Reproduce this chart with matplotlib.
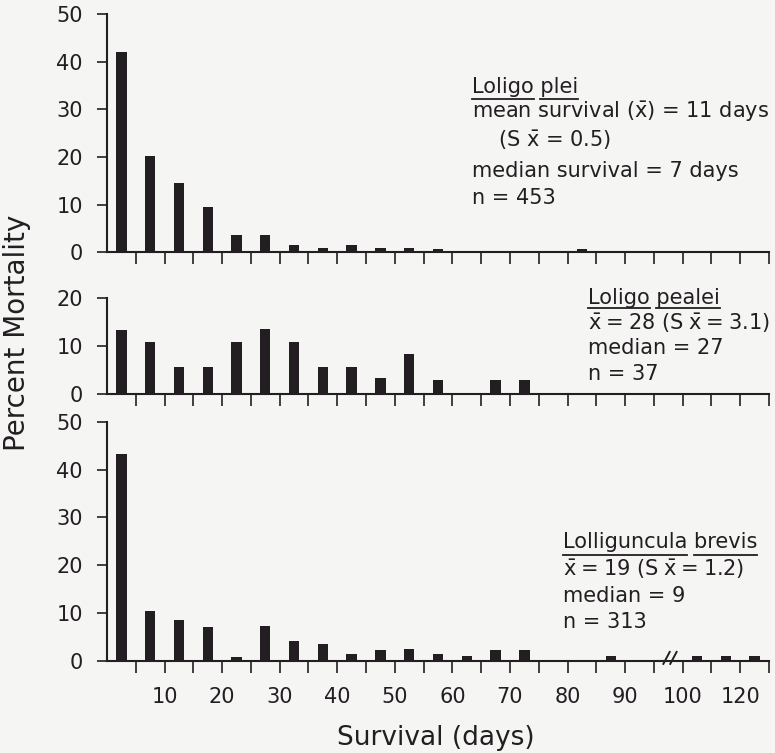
import matplotlib
matplotlib.use('Agg')
import matplotlib.pyplot as plt
from matplotlib.lines import Line2D

# ---------------- data ----------------
plei_days = [2.5, 7.5, 12.5, 17.5, 22.5, 27.5, 32.5, 37.5, 42.5, 47.5, 52.5, 57.5, 82.5, 97.5]
plei_pct = [42.0, 20.2, 14.5, 9.4, 3.7, 3.7, 1.6, 1.0, 1.5, 1.0, 1.0, 0.6, 0.7, 0.3]

pealei_days = [2.5, 7.5, 12.5, 17.5, 22.5, 27.5, 32.5, 37.5, 42.5, 47.5, 52.5, 57.5, 67.5, 72.5]
pealei_pct = [13.5, 11.0, 5.7, 5.7, 11.0, 13.7, 11.0, 5.6, 5.6, 3.3, 8.5, 3.0, 3.0, 3.0]

brevis_days = [2.5, 7.5, 12.5, 17.5, 22.5, 27.5, 32.5, 37.5, 42.5, 47.5, 52.5, 57.5, 62.5,
               67.5, 72.5, 87.5, 105, 115, 125]
brevis_pct = [43.2, 10.5, 8.5, 7.0, 0.9, 7.4, 4.2, 3.5, 1.4, 2.4, 2.6, 1.5, 1.0,
              2.3, 2.4, 1.0, 1.0, 1.0, 1.0]

tick_days = [5, 10, 15, 20, 25, 30, 35, 40, 45, 50, 55, 60, 65, 70, 75, 80, 85, 90, 95,
             100, 110, 120, 130]
label_days = [10, 20, 30, 40, 50, 60, 70, 80, 90, 100, 120]
label_text = ['10', '20', '30', '40', '50', '60', '70', '80', '90', '100', '120']

panel_ymax = [50, 20, 50]
panel_yticks = [[0, 10, 20, 30, 40, 50], [0, 10, 20], [0, 10, 20, 30, 40, 50]]


def axis_pos(d):
    """broken axis: beyond 100 days the scale is compressed 2x"""
    return d if d <= 100 else 100 + (d - 100) / 2.0


W, H = 775, 753
INK = '#231e21'
BG = '#f5f5f4'
FS = 15

fig = plt.figure(figsize=(W / 100, H / 100), dpi=100, facecolor=BG)


def fx(px):
    return px / W


def fy(py):
    return 1 - py / H


left, right = 107, 769
boxes = [(14, 252.3), (298.3, 394.3), (421.7, 661)]
series = [(plei_days, plei_pct), (pealei_days, pealei_pct), (brevis_days, brevis_pct)]
axes = []
for i, ((top, bot), (dd, vv)) in enumerate(zip(boxes, series)):
    ax = fig.add_axes([fx(left), fy(bot), fx(right) - fx(left), (bot - top) / H])
    ax.set_facecolor('none')
    ax.bar([axis_pos(d) for d in dd], vv, width=1.8, color=INK, edgecolor='none', zorder=3)
    ax.set_xlim(0, axis_pos(130))
    ax.set_ylim(0, panel_ymax[i])
    ax.set_yticks(panel_yticks[i])
    ax.set_yticklabels([str(t) for t in panel_yticks[i]], fontsize=FS, color=INK)
    if i == 2:
        ax.set_xticks([axis_pos(d) for d in label_days], labels=label_text)
        ax.set_xticks([axis_pos(d) for d in tick_days if d not in label_days], minor=True)
        ax.tick_params(axis='x', which='major', labelsize=FS, labelcolor=INK, pad=10)
    else:
        ax.set_xticks([axis_pos(d) for d in tick_days])
        ax.set_xticklabels([])
    for sp in ['top', 'right']:
        ax.spines[sp].set_visible(False)
    for sp in ['left', 'bottom']:
        ax.spines[sp].set_linewidth(1.5)
        ax.spines[sp].set_color(INK)
    ax.tick_params(axis='x', which='both', direction='out', length=8.5, width=1.2, color=INK)
    ax.tick_params(axis='y', direction='out', length=7.5, width=1.2, color=INK, pad=10)
    ax.spines['left'].set_bounds(0, panel_ymax[i])
    axes.append(ax)

# axis break marks on the bottom panel
axb = axes[2]
for xb in (97.2, 98.4):
    axb.plot([xb - 0.55, xb + 0.55], [-0.6, 1.9], color=INK, lw=1.4, clip_on=False, zorder=4)

# labels
fig.text(fx(436), fy(738), 'Survival (days)', fontsize=19, color=INK, ha='center', va='center')
fig.text(fx(17), fy(333), 'Percent Mortality', fontsize=20, color=INK, ha='center', va='center',
         rotation=90)

XB = r'$\bar{\mathrm{x}}$'
SP = '\u2005'  # four-per-em space

fig.canvas.draw()
renderer = fig.canvas.get_renderer()


def title_with_underline(x, y, words, uy):
    full = ' '.join(words)
    t = fig.text(fx(x), fy(y), full, fontsize=FS, color=INK, va='baseline', ha='left')
    bbf = t.get_window_extent(renderer)
    tmp = fig.text(fx(x), fy(y), words[0], fontsize=FS, va='baseline', ha='left')
    b1 = tmp.get_window_extent(renderer)
    tmp.remove()
    tmp = fig.text(fx(x), fy(y), words[1], fontsize=FS, va='baseline', ha='left')
    b2 = tmp.get_window_extent(renderer)
    tmp.remove()
    segs = [(b1.x0, b1.x1), (bbf.x1 - b2.width, bbf.x1)]
    for a, b in segs:
        fig.add_artist(Line2D([a / W, b / W], [fy(uy), fy(uy)], transform=fig.transFigure,
                              color=INK, lw=1.3))


def line(x, y, s, fs=FS):
    fig.text(fx(x), fy(y), s, fontsize=fs, color=INK, va='baseline', ha='left',
             family=['DejaVu Sans'])


def mean_line(mean, se):
    return (XB + SP + '=' + SP + mean + ' (S' + SP + XB + SP + '=' + SP + se + ')')


# top panel annotation
title_with_underline(472, 92.7, ['Loligo', 'plei'], 99)
line(472, 118.3, 'mean survival (' + XB + ') = 11 days')
line(498, 147, '(S ' + XB + ' = 0.5)')
line(472, 176.7, 'median survival = 7 days')
line(472, 204, 'n = 453')

# middle panel annotation
title_with_underline(588, 304.5, ['Loligo', 'pealei'], 308)
line(588, 330, mean_line('28', '3.1'))
line(588, 354, 'median = 27')
line(588, 380, 'n = 37')

# bottom panel annotation
title_with_underline(563, 548.3, ['Lolliguncula', 'brevis'], 555)
line(563, 576, mean_line('19', '1.2'))
line(563, 601.7, 'median = 9')
line(563, 627.7, 'n = 313')

fig.savefig('out.png', dpi=100, facecolor=BG)
